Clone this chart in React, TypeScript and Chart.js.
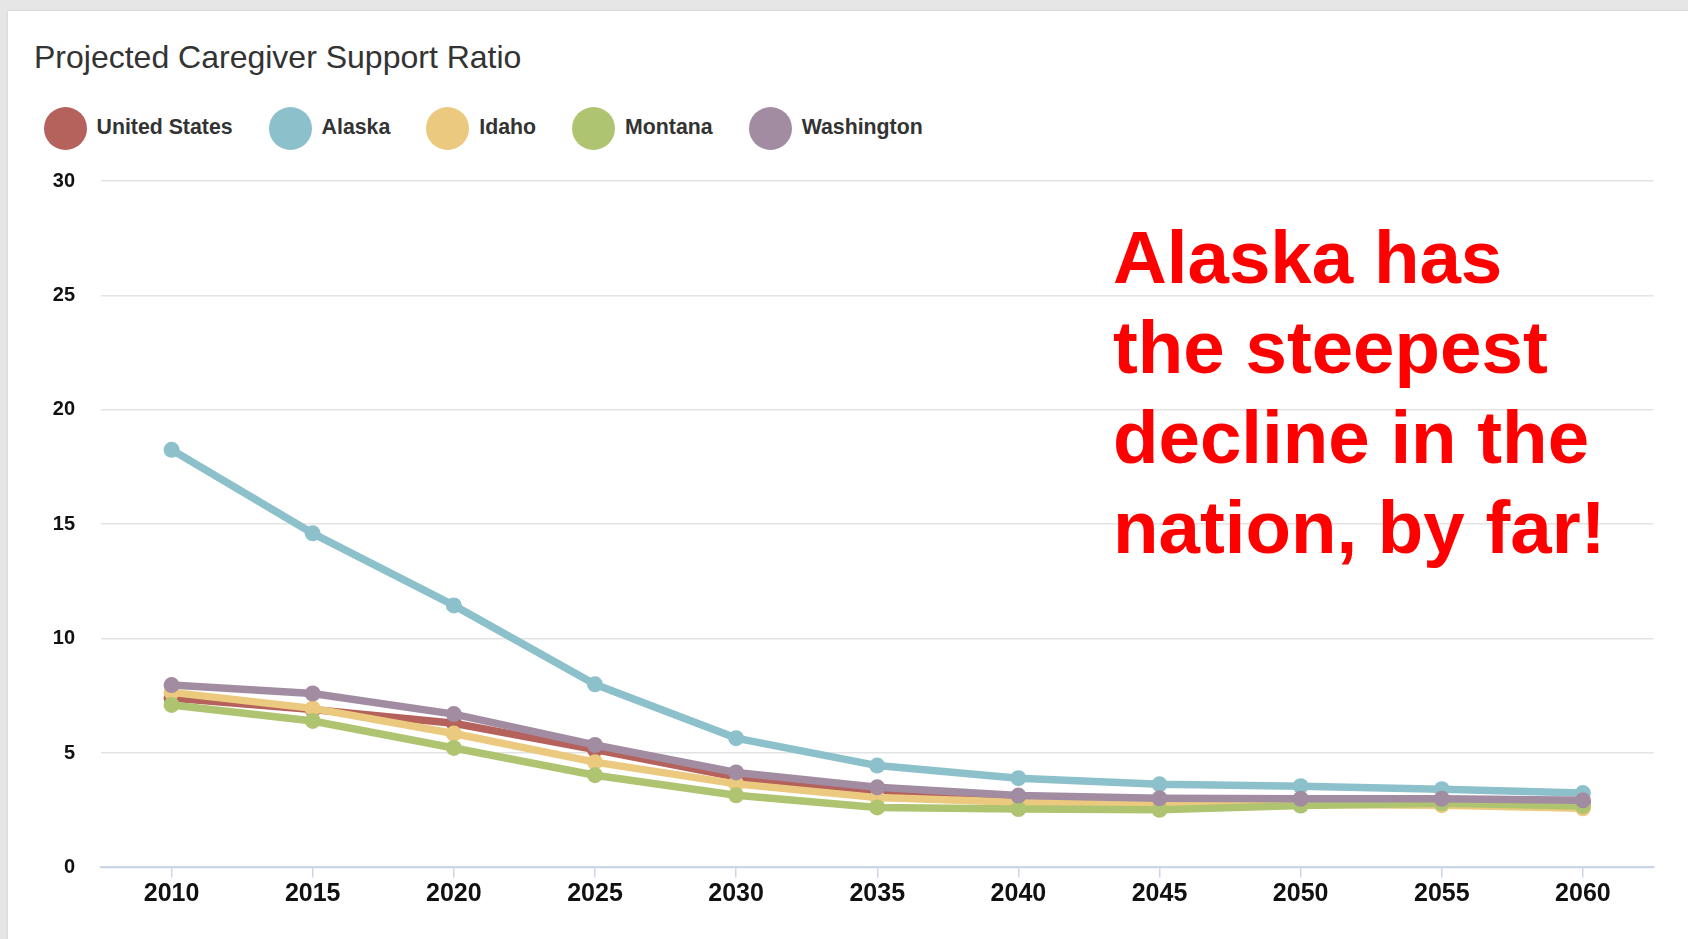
import React, { useEffect, useRef } from "react";
import { Chart, registerables } from "chart.js";

Chart.register(...registerables);

const chartTitle = "Projected Caregiver Support Ratio";
const years = ["2010", "2015", "2020", "2025", "2030", "2035", "2040", "2045", "2050", "2055", "2060"];
const yTickValues = [0, 5, 10, 15, 20, 25, 30];

const seriesNames = ["United States", "Alaska", "Idaho", "Montana", "Washington"];
const seriesColors = ["#b5615c", "#8cc1cb", "#ebc97e", "#afc470", "#a28ca2"];

const unitedStates = [7.4, 6.9, 6.3, 5.15, 3.95, 3.35, 3.05, 2.95, 2.9, 2.9, 2.85];
const alaska = [18.25, 14.6, 11.45, 8.0, 5.65, 4.45, 3.9, 3.63, 3.55, 3.42, 3.25];
const idaho = [7.65, 6.95, 5.85, 4.6, 3.65, 3.05, 2.85, 2.78, 2.75, 2.72, 2.58];
const montana = [7.1, 6.4, 5.22, 4.03, 3.15, 2.62, 2.55, 2.52, 2.7, 2.8, 2.68];
const washington = [7.97, 7.6, 6.7, 5.35, 4.15, 3.5, 3.14, 3.02, 3.0, 3.0, 2.93];

const seriesValues = [unitedStates, alaska, idaho, montana, washington];
const seriesOrder = [5, 4, 3, 2, 1];

const annotationLines = ["Alaska has", "the steepest", "decline in the", "nation, by far!"];

const FONT = "'Liberation Sans', Arial, Helvetica, sans-serif";

export default function App() {
  const canvasRef = useRef<HTMLCanvasElement | null>(null);

  useEffect(() => {
    const canvas = canvasRef.current;
    if (!canvas) return;
    const chart = new Chart(canvas, {
      type: "line",
      data: {
        labels: years,
        datasets: seriesNames.map((name, i) => ({
          label: name,
          data: seriesValues[i],
          borderColor: seriesColors[i],
          backgroundColor: seriesColors[i],
          borderWidth: 7.5,
          pointRadius: 8,
          pointHoverRadius: 8,
          pointBorderWidth: 0,
          pointBackgroundColor: seriesColors[i],
          tension: 0,
          fill: false,
          order: seriesOrder[i],
        })),
      },
      options: {
        responsive: false,
        animation: false,
        layout: { padding: { left: 0, top: 181, right: 34.5, bottom: 0 } },
        plugins: {
          legend: { display: false },
          tooltip: { enabled: false },
          title: { display: false },
        },
        scales: {
          x: {
            type: "category",
            offset: true,
            grid: {
              display: true,
              drawOnChartArea: false,
              drawTicks: true,
              tickLength: 10,
              offset: false,
              color: "#ccd6eb",
              lineWidth: 1.5,
            },
            border: { display: true, color: "#ccd6eb", width: 2 },
            ticks: {
              font: { family: FONT, size: 25, weight: "bold" },
              color: "#111111",
              padding: 2,
              maxRotation: 0,
              autoSkip: false,
            },
            afterFit: (s: any) => {
              s.height = 71.6;
            },
          },
          y: {
            min: 0,
            max: 30,
            afterBuildTicks: (s: any) => {
              s.ticks = yTickValues.map((v) => ({ value: v }));
            },
            grid: { color: "#e3e3e3", lineWidth: 1.5, drawTicks: false },
            border: { display: false },
            ticks: {
              font: { family: FONT, size: 20, weight: "bold" },
              color: "#111111",
              padding: 26,
            },
            afterFit: (s: any) => {
              s.width = 101;
            },
          },
        },
      },
    } as any);
    return () => chart.destroy();
  }, []);

  return (
    <div
      style={{
        position: "fixed",
        left: 0,
        top: 0,
        width: 1688,
        height: 939,
        background: "#e6e6e6",
        overflow: "hidden",
        fontFamily: FONT,
      }}
    >
      <div
        style={{
          position: "absolute",
          left: 8,
          top: 11,
          width: 1700,
          height: 960,
          background: "#ffffff",
          boxShadow: "0 0 3px rgba(0,0,0,0.12)",
        }}
      />
      <div
        style={{
          position: "absolute",
          left: 34,
          top: 41,
          fontSize: 32,
          lineHeight: "32px",
          color: "#333333",
          whiteSpace: "nowrap",
        }}
      >
        {chartTitle}
      </div>
      <div
        style={{
          position: "absolute",
          left: 43.5,
          top: 106.8,
          display: "flex",
          alignItems: "center",
          whiteSpace: "nowrap",
        }}
      >
        {seriesNames.map((name, i) => (
          <div key={name} style={{ display: "flex", alignItems: "center", marginRight: 36 }}>
            <div
              style={{
                width: 43,
                height: 43,
                borderRadius: "50%",
                background: seriesColors[i],
                marginRight: 10,
              }}
            />
            <span
              style={{
                fontSize: 21.3,
                fontWeight: "bold",
                color: "#333333",
                lineHeight: "43px",
                position: "relative",
                top: -1,
              }}
            >
              {name}
            </span>
          </div>
        ))}
      </div>
      <canvas
        ref={canvasRef}
        width={1688}
        height={939}
        style={{ position: "absolute", left: 0, top: 0, width: 1688, height: 939 }}
      />
      <div
        style={{
          position: "absolute",
          left: 1113,
          top: 212.5,
          fontSize: 74.5,
          lineHeight: "90px",
          fontWeight: "bold",
          color: "#ff0000",
          whiteSpace: "nowrap",
        }}
      >
        {annotationLines.map((line) => (
          <div key={line}>{line}</div>
        ))}
      </div>
    </div>
  );
}
